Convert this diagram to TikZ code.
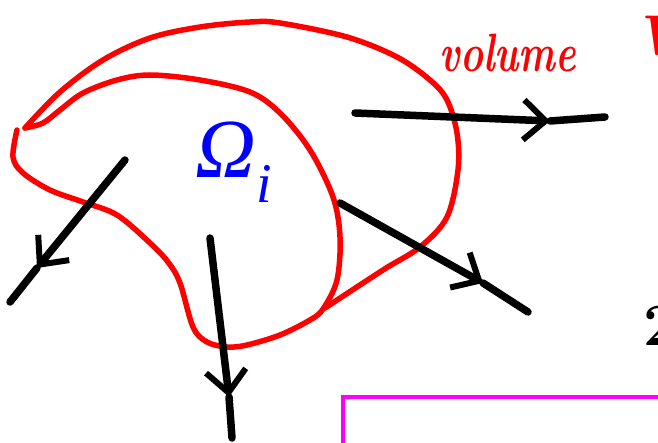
\documentclass[tikz,border=0pt]{standalone}
\usepackage{fontspec}
\newfontfamily\greekfont{Liberation Serif}
\usepackage{tikz}
\usetikzlibrary{arrows.meta}
\definecolor{Ink}{HTML}{000000}
\definecolor{PenRed}{HTML}{FF0000}
\definecolor{PenBlue}{HTML}{0000FF}
\definecolor{PenPink}{HTML}{FF00FF}

\begin{document}
\begin{tikzpicture}[x=1pt,y=-1pt,
  redpen/.style={line width=5.5pt,PenRed,line cap=round,line join=round},
  inkpen/.style={line width=7.5pt,Ink,line cap=round},
  barb/.style={-{Straight Barb[length=22pt,width=40pt,line width=6pt]}}]
  \useasboundingbox (0,0) rectangle (658,443);
  \clip (0,0) rectangle (658,443);
  % control volume, two strokes meeting at the tip
  \draw[redpen] plot[smooth,tension=0.55] coordinates {(25,128) (60,92) (103,60)
    (150,38) (200,27) (250,22) (280,23) (347,37) (397,57) (430,80) (447,100)
    (457,133) (458,170) (447,217) (420,247) (383,270) (325,308)};
  \draw[redpen] plot[smooth,tension=0.55] coordinates {(25,128) (43,123) (60,110)
    (83,93) (117,80) (150,75) (200,80) (250,92) (280,113) (310,150) (333,197)
    (340,237) (337,280) (323,309) (310,320) (280,335) (247,345) (227,347)
    (207,342) (193,327) (180,283) (168,262) (150,243) (117,215) (83,202)
    (50,190) (23,173) (13,157) (17,130)};
  % outgoing vectors
  \coordinate (e1) at (355,113);
  \coordinate (t1) at (550,121);
  \coordinate (f1) at (605,117);
  \coordinate (e2) at (340,203);
  \coordinate (t2) at (483,283);
  \coordinate (f2) at (528,312);
  \coordinate (e3) at (210,238);
  \coordinate (t3) at (229,397);
  \coordinate (f3) at (232,438);
  \coordinate (e4) at (125,160);
  \coordinate (t4) at (37,268);
  \coordinate (f4) at (10,302);
  \foreach \v in {1,2,3,4}{
    \draw[inkpen,barb] (e\v) -- (t\v);
    \draw[inkpen] (t\v) -- (f\v);
  }
  % labels
  \node[text=PenBlue,font=\fontsize{84}{84}\selectfont\greekfont\itshape] (omega) at (234,162)
    {Ω\raisebox{-0.3em}{\fontsize{56}{56}\selectfont i}};
  \node[text=PenRed,font=\fontsize{54}{54}\selectfont\bfseries\itshape,xscale=0.72,anchor=base] (vol) at (508,72) {volume};
  \node[text=PenRed,font=\fontsize{56}{56}\selectfont\bfseries\itshape,anchor=west] (vee) at (630,36) {V};
  \node[text=Ink,font=\fontsize{60}{60}\selectfont\bfseries,anchor=west] (two) at (640,326) {2};
  % box below
  \draw[PenPink,line width=4pt] (343,450) -- (343,397) -- (670,397);
\end{tikzpicture}
\end{document}
